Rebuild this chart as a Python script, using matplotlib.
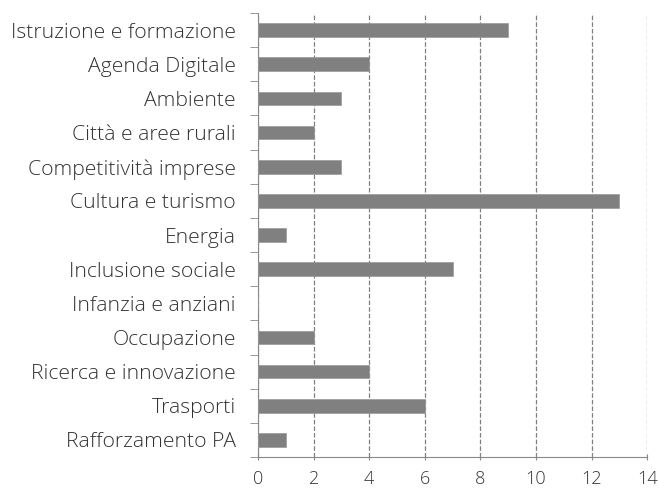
import matplotlib.pyplot as plt
import numpy as np

categories = ['Istruzione e formazione', 'Agenda Digitale', 'Ambiente',
              'Città e aree rurali', 'Competitività imprese',
              'Cultura e turismo', 'Energia', 'Inclusione sociale',
              'Infanzia e anziani', 'Occupazione', 'Ricerca e innovazione',
              'Trasporti', 'Rafforzamento PA']
values = [9, 4, 3, 2, 3, 13, 1, 7, 0, 2, 4, 6, 1]
xticks = [0, 2, 4, 6, 8, 10, 12, 14]

plt.rcParams['font.family'] = ['Open Sans', 'DejaVu Sans']

fig = plt.figure(figsize=(6.59, 4.91), dpi=100)
ax = fig.add_axes([0.3915, 0.0692, 0.5905, 0.9043])

y = np.arange(len(categories))
ax.barh(y, values, height=0.4, color='#808080', edgecolor='#999999',
        linewidth=0.5, zorder=3)

ax.set_ylim(len(categories) - 0.5, -0.5)
ax.set_xlim(0, 14)
ax.set_yticks(y)
ax.set_yticklabels(categories, fontsize=15.2, color='#333333',
                   fontweight='light')
ax.set_yticks(np.arange(len(categories) + 1) - 0.5, minor=True)
ax.tick_params(axis='y', which='major', length=0, pad=16)
ax.tick_params(axis='y', which='minor', length=6, color='#888888')
ax.set_xticks(xticks)
ax.set_xticklabels([str(t) for t in xticks], fontsize=13, color='#333333',
                   fontweight='light')
ax.tick_params(axis='x', length=4, direction='inout', color='#888888', pad=7)

ax.grid(axis='x', linestyle='--', color='#808080', linewidth=0.9, zorder=0)

for s in ['top', 'right']:
    ax.spines[s].set_visible(False)
for s in ['left', 'bottom']:
    ax.spines[s].set_color('#888888')

fig.savefig('out.png', dpi=100)
